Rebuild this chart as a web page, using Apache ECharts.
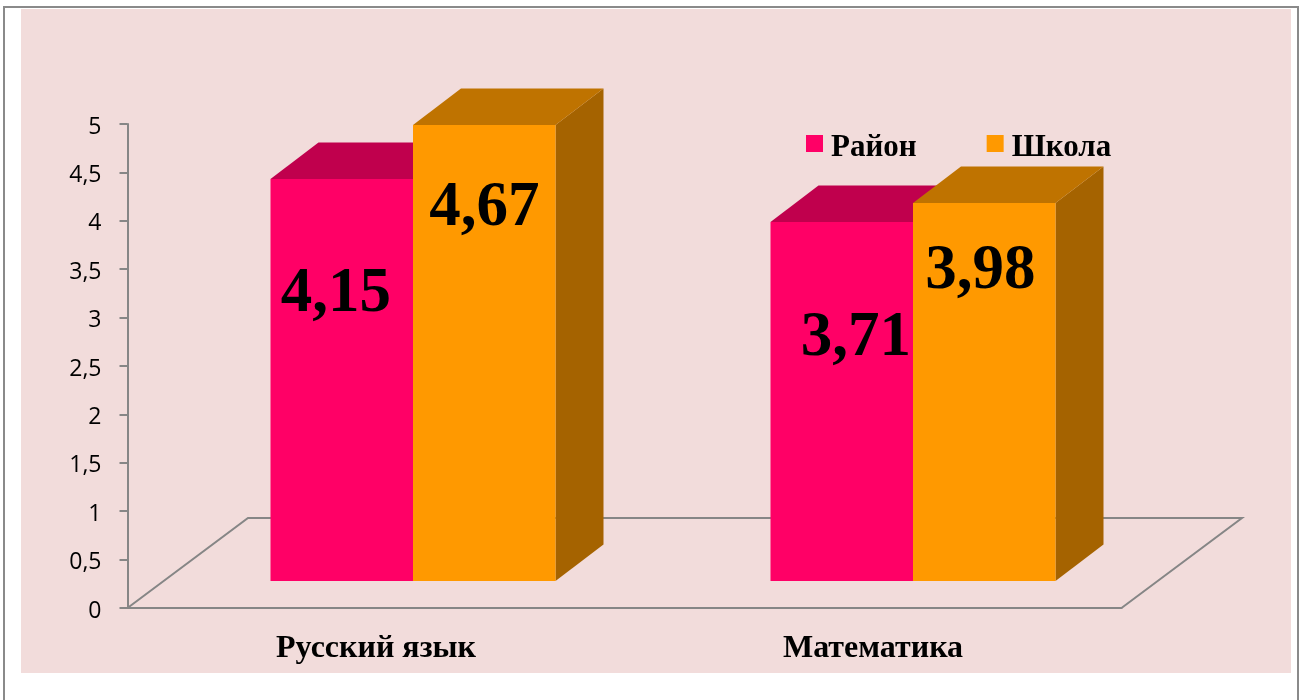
<!DOCTYPE html>
<html lang="ru">
<head>
<meta charset="UTF-8">
<title>Район и школа</title>
<script src="https://cdn.jsdelivr.net/npm/echarts@6/dist/echarts.min.js"></script>
<style>
html, body { margin: 0; padding: 0; background: #fff; }
#main { width: 1305px; height: 700px; }
</style>
</head>
<body>
<div id="main"></div>
<script>
var categories = ['Русский язык', 'Математика'];
var seriesNames = ['Район', 'Школа'];
// heights as drawn in the picture; the printed numbers are kept apart
// because the orange bars do not quite follow their own labels
var districtValues = [4.15, 3.71];
var schoolValues = [4.71, 3.90];
var districtLabels = ['4,15', '3,71'];
var schoolLabels = ['4,67', '3,98'];
var yTickLabels = ['0', '0,5', '1', '1,5', '2', '2,5', '3', '3,5', '4', '4,5', '5'];

// hand placed labels, pixels from the middle of the bar front / the bar top
var districtNudge = [[-6, 116], [14, 117]];
var schoolNudge = [[0, 84], [-4, 69]];

var AXIS_GRAY = '#868686';
var SERIF = '"Liberation Serif", serif';
var BAR_W = 142.5;
var DEPTH_X = 48, DEPTH_Y = 36.5;
var FLOOR_X = 120.5, FLOOR_Y = 90;

function bar3d(side, front, top, dark, labels, nudge) {
  return function (params, api) {
    var i = api.value(0);
    var base = api.coord([i, 0]);
    var head = api.coord([i, api.value(1)]);
    var headY = Math.round(head[1]);
    var x0 = side < 0 ? base[0] - BAR_W : base[0];
    var x1 = x0 + BAR_W;
    return {
      type: 'group',
      children: [
        { type: 'polygon', shape: { points: [[x1, headY], [x1 + DEPTH_X, headY - DEPTH_Y], [x1 + DEPTH_X, base[1] - DEPTH_Y], [x1, base[1]]] }, style: { fill: dark } },
        { type: 'polygon', shape: { points: [[x0, headY], [x0 + DEPTH_X, headY - DEPTH_Y], [x1 + DEPTH_X, headY - DEPTH_Y], [x1, headY]] }, style: { fill: top } },
        { type: 'rect', shape: { x: x0, y: headY, width: BAR_W, height: base[1] - headY }, style: { fill: front } },
        { type: 'text', style: {
          text: labels[i],
          x: (x0 + x1) / 2 + nudge[i][0],
          y: headY + nudge[i][1],
          align: 'center',
          verticalAlign: 'middle',
          font: 'bold 63px ' + SERIF,
          fill: '#000'
        } }
      ]
    };
  };
}

function pairs(values) {
  return values.map(function (v, i) { return [i, v]; });
}

var myChart = echarts.init(document.getElementById('main'));
myChart.setOption({
  animation: false,
  backgroundColor: '#fff',
  graphic: [
    { type: 'rect', z: -10, shape: { x: 21, y: 9, width: 1270, height: 664 }, style: { fill: '#F2DCDB' } },
    { type: 'polyline', z: -10, shape: { points: [[4, 700], [4, 7], [1298, 7], [1298, 700]] }, style: { fill: null, stroke: '#8a8a8a', lineWidth: 2 } }
  ],
  legend: {
    left: 801,
    top: 127,
    itemWidth: 17,
    itemHeight: 17,
    itemGap: 70,
    icon: 'rect',
    data: seriesNames,
    formatter: '{t|{name}}',
    textStyle: {
      rich: {
        t: { fontFamily: SERIF, fontWeight: 'bold', fontSize: 31, color: '#000', padding: [8, 0, 0, 3] }
      }
    }
  },
  grid: [
    { left: 127.5, top: 124, width: 994, height: 484 },
    // the plane the bars stand on, further back than the axes
    { left: 163, top: 97, width: 1000, height: 484 }
  ],
  xAxis: [
    {
      type: 'category',
      gridIndex: 0,
      data: categories,
      axisLine: { lineStyle: { color: AXIS_GRAY, width: 2 } },
      axisTick: { length: 9, lineStyle: { color: AXIS_GRAY, width: 2 } },
      axisLabel: { margin: 25, fontFamily: SERIF, fontWeight: 'bold', fontSize: 32, color: '#000' }
    },
    { type: 'category', gridIndex: 1, data: categories, show: false }
  ],
  yAxis: [
    {
      type: 'value',
      gridIndex: 0,
      min: 0,
      max: 5,
      interval: 0.5,
      axisLine: { show: true, lineStyle: { color: AXIS_GRAY, width: 2 } },
      axisTick: { show: true, length: 8, lineStyle: { color: AXIS_GRAY, width: 2 } },
      splitLine: { show: false },
      axisLabel: {
        margin: 26,
        formatter: function (v) { return '{t|' + yTickLabels[Math.round(v * 2)] + '}'; },
        rich: {
          t: { fontFamily: 'Open Sans', fontSize: 23, color: '#000', padding: [6, 0, 0, 0] }
        }
      }
    },
    { type: 'value', gridIndex: 1, min: 0, max: 5, show: false }
  ],
  series: [
    {
      type: 'custom',
      name: 'floor',
      xAxisIndex: 0,
      yAxisIndex: 0,
      silent: true,
      z: 1,
      clip: false,
      data: [[0, 0]],
      renderItem: function (params, api) {
        var o = api.coord([0, 0]);
        var x0 = params.coordSys.x;
        var x1 = x0 + params.coordSys.width;
        return {
          type: 'polyline',
          shape: { points: [[x0, o[1]], [x0 + FLOOR_X, o[1] - FLOOR_Y], [x1 + FLOOR_X, o[1] - FLOOR_Y], [x1, o[1]]] },
          style: { fill: null, stroke: AXIS_GRAY, lineWidth: 2 }
        };
      }
    },
    {
      type: 'custom',
      name: seriesNames[0],
      xAxisIndex: 1,
      yAxisIndex: 1,
      z: 3,
      clip: false,
      itemStyle: { color: '#FF0066' },
      data: pairs(districtValues),
      renderItem: bar3d(-1, '#FF0066', '#C0004D', '#A50042', districtLabels, districtNudge)
    },
    {
      type: 'custom',
      name: seriesNames[1],
      xAxisIndex: 1,
      yAxisIndex: 1,
      z: 4,
      clip: false,
      itemStyle: { color: '#FF9900' },
      data: pairs(schoolValues),
      renderItem: bar3d(1, '#FF9900', '#BF7300', '#A56300', schoolLabels, schoolNudge)
    }
  ]
});
</script>
</body>
</html>
